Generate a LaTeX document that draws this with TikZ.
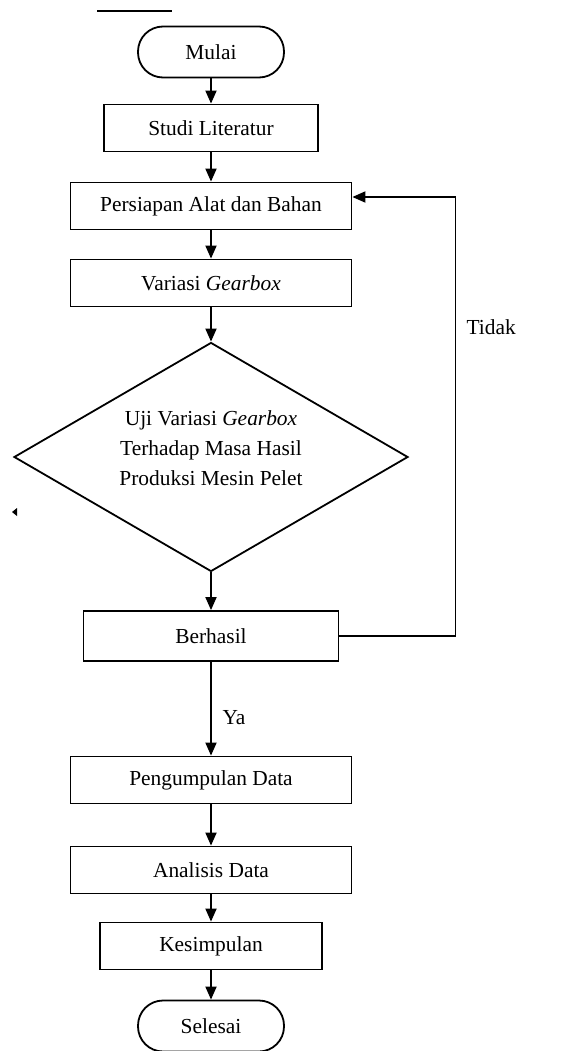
\documentclass[tikz,border=0pt]{standalone}
\usepackage{fontspec}
\setmainfont{Liberation Serif}
\usetikzlibrary{positioning,arrows.meta,shapes.geometric,calc}

\begin{document}
\begin{tikzpicture}[x=1pt,y=-1pt,>={Triangle[width=11pt,length=13pt]},on grid,
  every node/.style={font=\fontsize{21.4}{30}\selectfont},
  proc/.style={draw,line width=1.8pt,minimum width=281pt,minimum height=47pt,inner sep=0pt},
  term/.style={draw,line width=1.8pt,rounded corners=25pt,minimum width=146pt,minimum height=51pt},
  dec/.style={draw,diamond,line width=1.8pt,minimum width=394pt,minimum height=229pt,inner sep=0pt},
  link/.style={line width=1.8pt}]
  \useasboundingbox (0,0) rectangle (560,1051);
  % top stroke and stray mark
  \draw[line width=2.2pt] (97,11) -- (172,11);
  \fill (12,512) -- (17,508) -- (17,516) -- cycle;
  % flow
  \node[term] (mulai) at (211,52) {Mulai};
  \node[proc,minimum width=214pt] (studi) [below=76pt of mulai] {Studi Literatur};
  \node[proc] (persiapan) [below=78pt of studi] {Persiapan Alat dan Bahan};
  \node[proc] (variasi) [below=77pt of persiapan] {Variasi \textit{Gearbox}};
  \node[dec] (uji) [below=174pt of variasi] {};
  \node[align=center] (ujitext) at ($(uji)+(0,-9)$)
    {Uji Variasi \textit{Gearbox}\\Terhadap Masa Hasil\\Produksi Mesin Pelet};
  \node[proc,minimum width=255pt,minimum height=50pt] (berhasil) [below=179pt of uji] {Berhasil};
  \node[proc] (data) [below=144pt of berhasil] {Pengumpulan Data};
  \node[proc] (analisis) [below=90pt of data] {Analisis Data};
  \node[proc,minimum width=222pt] (kesimpulan) [below=76pt of analisis] {Kesimpulan};
  \node[term] (selesai) [below=80pt of kesimpulan] {Selesai};
  \path[link,->]
    (mulai) edge (studi)
    (studi) edge (persiapan)
    (persiapan) edge (variasi)
    (variasi) edge (uji)
    (uji) edge (berhasil)
    (berhasil) edge (data)
    (data) edge (analisis)
    (analisis) edge (kesimpulan)
    (kesimpulan) edge (selesai);
  % back loop
  \coordinate (persin) at ($(persiapan.east)+(0,9pt)$);
  \coordinate (loopc) at ($(persin)+(103pt,0)$);
  \draw[link,->] (berhasil.east) -| (loopc) -- (persin);
  \node[anchor=west] (tidak) at (463,327) {Tidak};
  \node (ya) at (234,718) {Ya};
\end{tikzpicture}
\end{document}
